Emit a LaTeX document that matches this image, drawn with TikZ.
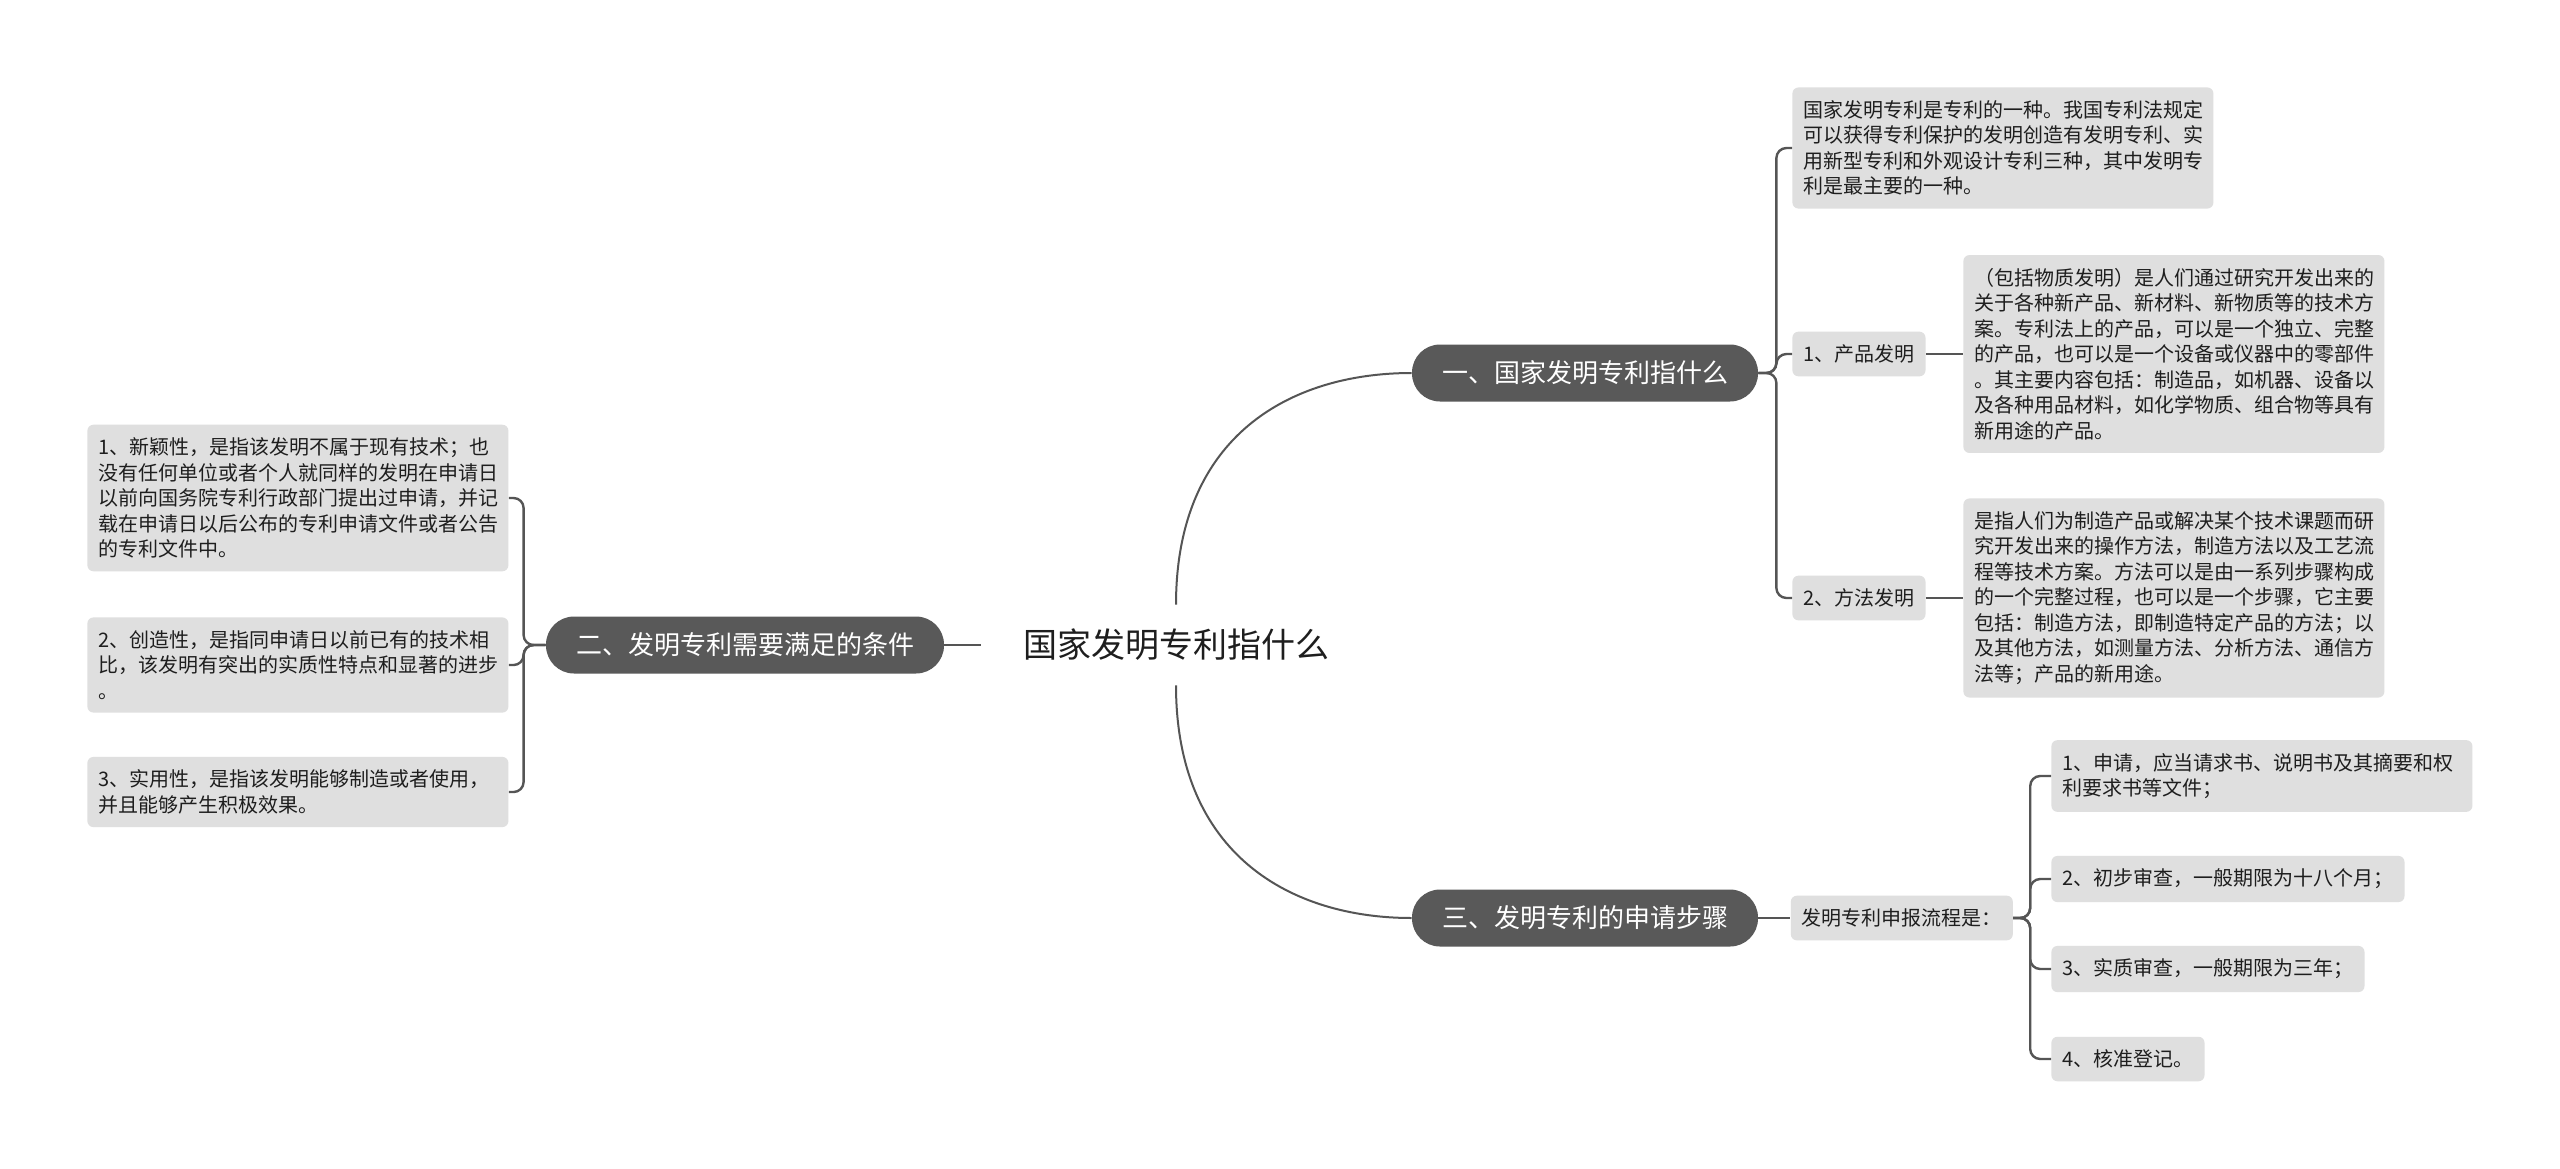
\documentclass[tikz,border=0pt]{standalone}
\usepackage{fontspec}
\setmainfont{Noto Sans CJK SC}
\usetikzlibrary{positioning}
\definecolor{topicgray}{HTML}{595959}
\definecolor{leafgray}{HTML}{DFDFDF}
\definecolor{linegray}{HTML}{555555}
\definecolor{inkgray}{HTML}{1E1E1E}

\begin{document}
\begin{tikzpicture}[
        x=0.5pt, y=-0.5pt,
        root/.style={font=\fontsize{17pt}{20pt}\selectfont, text=inkgray, inner xsep=21pt, inner ysep=12pt},
        topic/.style={fill=topicgray, text=white, rounded corners=14pt, font=\fontsize{13pt}{15pt}\selectfont,
            inner xsep=15pt, minimum height=28.5pt},
        leaf/.style={fill=leafgray, text=inkgray, rounded corners=3pt, font=\fontsize{10pt}{12.75pt}\selectfont,
            align=left, inner xsep=5.5pt, inner ysep=6.5pt, anchor=west},
        wideleaf/.style={leaf, text width=199.5pt},
        branch/.style={draw=linegray, line width=1.2pt, rounded corners=5pt},
        stem/.style={draw=linegray, line width=1pt},
    ]

    \fill[white] (0,0) rectangle (2560,1168);
    \useasboundingbox (0,0) rectangle (2560,1168);

    \node[root] (root) at (1176,645) {国家发明专利指什么};

    \node[topic] (t1) at (1585,373) {一、国家发明专利指什么};
    \node[topic] (t2) at (745,645)  {二、发明专利需要满足的条件};
    \node[topic] (t3) at (1585,918) {三、发明专利的申请步骤};

    \node[wideleaf] (d0) at (1792,148) {国家发明专利是专利的一种。我国专利法规定\\可以获得专利保护的发明创造有发明专利、实\\用新型专利和外观设计专利三种，其中发明专\\利是最主要的一种。};
    \node[leaf] (d1) at (1792,354) {1、产品发明};
    \node[leaf] (d2) at (1792,598) {2、方法发明};
    \node[wideleaf] (d1x) at (1963,354) {（包括物质发明）是人们通过研究开发出来的\\关于各种新产品、新材料、新物质等的技术方\\案。专利法上的产品，可以是一个独立、完整\\的产品，也可以是一个设备或仪器中的零部件\\。其主要内容包括：制造品，如机器、设备以\\及各种用品材料，如化学物质、组合物等具有\\新用途的产品。};
    \node[wideleaf] (d2x) at (1963,598) {是指人们为制造产品或解决某个技术课题而研\\究开发出来的操作方法，制造方法以及工艺流\\程等技术方案。方法可以是由一系列步骤构成\\的一个完整过程，也可以是一个步骤，它主要\\包括：制造方法，即制造特定产品的方法；以\\及其他方法，如测量方法、分析方法、通信方\\法等；产品的新用途。};

    \node[wideleaf] (l1) at (87,498) {1、新颖性，是指该发明不属于现有技术；也\\没有任何单位或者个人就同样的发明在申请日\\以前向国务院专利行政部门提出过申请，并记\\载在申请日以后公布的专利申请文件或者公告\\的专利文件中。};
    \node[wideleaf] (l2) at (87,665) {2、创造性，是指同申请日以前已有的技术相\\比，该发明有突出的实质性特点和显著的进步\\。};
    \node[wideleaf] (l3) at (87,792) {3、实用性，是指该发明能够制造或者使用，\\并且能够产生积极效果。};

    \node[leaf, right=16pt of t3] (s0) {发明专利申报流程是：};
    \node[wideleaf] (s1) at (2051,776)  {1、申请，应当请求书、说明书及其摘要和权\\利要求书等文件；};
    \node[leaf] (s2) at (2051,879)  {2、初步审查，一般期限为十八个月；};
    \node[leaf] (s3) at (2051,969)  {3、实质审查，一般期限为三年；};
    \node[leaf] (s4) at (2051,1059) {4、核准登记。};

    \draw[stem] (root.north) .. controls +(0,-170) and +(-120,0) .. (t1.west);
    \draw[stem] (root.south) .. controls +(0,170) and +(-120,0) .. (t3.west);
    \draw[stem] (t2) -- (root);

    \foreach \c in {l1,l2,l3}
        \draw[branch] (t2.west) -- ++(-22,0) |- (\c.east);
    \foreach \c in {d0,d1,d2}
        \draw[branch] (t1.east) -- ++(18,0) |- (\c.west);
    \foreach \c in {s1,s2,s3,s4}
        \draw[branch] (s0.east) -- ++(17,0) |- (\c.west);

    \draw[branch] (d1) -- (d1x);
    \draw[branch] (d2) -- (d2x);
    \draw[branch] (t3) -- (s0);

\end{tikzpicture}
\end{document}
